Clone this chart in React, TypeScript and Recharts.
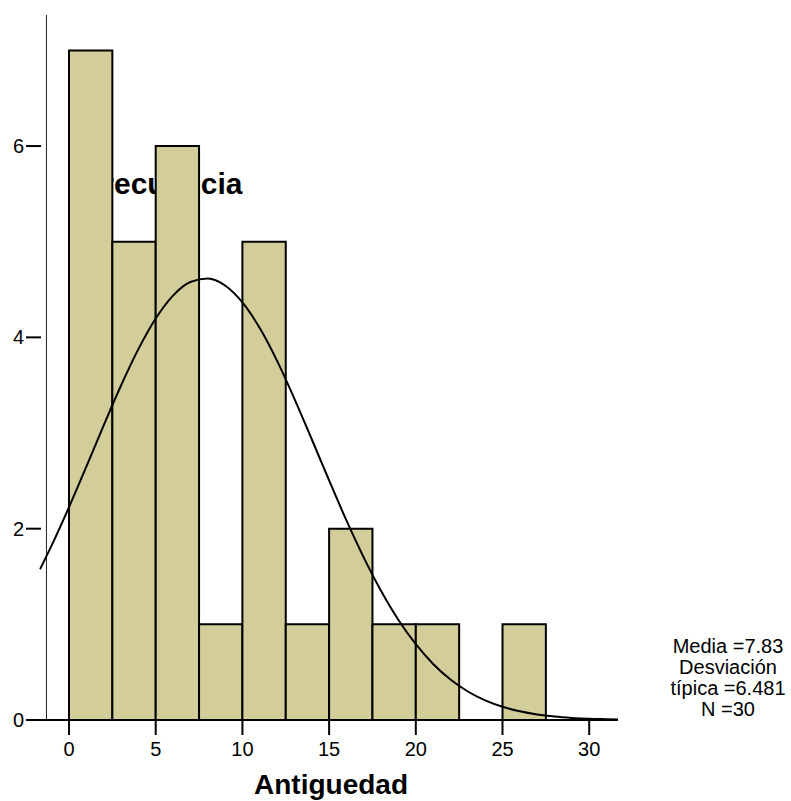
import {
  ComposedChart,
  Line,
  XAxis,
  YAxis,
  ReferenceArea,
  ReferenceLine,
  Label,
} from "recharts";

// histogram bins (width 2.5) and their counts
const binStarts = [0, 2.5, 5, 7.5, 10, 12.5, 15, 17.5, 20, 22.5, 25];
const counts = [7, 5, 6, 1, 5, 1, 2, 1, 1, 0, 1];
const binWidth = 2.5;

// fitted normal curve
const curveX = [
  -1.67, -1, 0, 1, 2, 3, 4, 5, 6, 7, 8, 9, 10, 11, 12, 13, 14, 15, 16, 17, 18,
  19, 20, 21, 22, 23, 24, 25, 26, 27, 28, 29, 30, 31, 31.66,
];
const curveY = [
  1.576, 1.825, 2.225, 2.649, 3.08, 3.497, 3.877, 4.197, 4.437, 4.579, 4.615,
  4.542, 4.365, 4.097, 3.754, 3.358, 2.935, 2.504, 2.086, 1.697, 1.348, 1.045,
  0.792, 0.586, 0.423, 0.298, 0.205, 0.138, 0.091, 0.058, 0.036, 0.022, 0.013,
  0.008, 0.005,
];

const xTicks = [0, 5, 10, 15, 20, 25, 30];
const yTicks = [0, 2, 4, 6];
const stats = ["Media =7.83", "Desviación", "típica =6.481", "N =30"];

const font = "'Liberation Sans', Arial, sans-serif";
const barFill = "#D3CE99";

const curve = curveX.map((x, i) => ({ x, y: curveY[i] }));

function YTick(props: any) {
  const { x, y, payload } = props;
  return (
    <g>
      <text
        x={x - 2}
        y={y}
        textAnchor="end"
        dominantBaseline="central"
        fontSize={20}
        fontFamily={font}
        fill="#000"
      >
        {payload.value}
      </text>
      <line x1={x} x2={x + 15} y1={y} y2={y} stroke="#000" strokeWidth={2} />
    </g>
  );
}

export default function App() {
  return (
    <div
      style={{
        position: "absolute",
        left: 0,
        top: 0,
        width: 791,
        height: 801,
        fontFamily: font,
        background: "#fff",
      }}
    >
      {/* text that sits behind the bars */}
      <svg
        width={791}
        height={801}
        style={{ position: "absolute", left: 0, top: 0 }}
      >
        <text x={84} y={194} fontSize={30} fontWeight="bold" fontFamily={font} fill="#000">
          Frecuencia
        </text>
        <text x={728} y={653} textAnchor="middle" fontSize={20} fontFamily={font} fill="#000">
          {stats.map((s, i) => (
            <tspan key={s} x={728} dy={i === 0 ? 0 : 21}>
              {s}
            </tspan>
          ))}
        </text>
      </svg>
      <div style={{ position: "absolute", left: 0, top: 0 }}>
        <ComposedChart
          width={791}
          height={801}
          margin={{ top: 15, right: 173, bottom: 0, left: 0 }}
        >
          <XAxis
            dataKey="x"
            type="number"
            domain={[-2.48, 31.66]}
            ticks={xTicks}
            allowDataOverflow
            height={81}
            axisLine={{ stroke: "#000", strokeWidth: 2 }}
            tickLine={{ stroke: "#000", strokeWidth: 2 }}
            tickSize={15}
            tickMargin={7}
            tick={{ fill: "#000", fontSize: 20, fontFamily: font }}
          >
            <Label
              content={({ viewBox }: any) => (
                <text
                  x={viewBox.x + viewBox.width / 2 + 9}
                  y={viewBox.y + 74}
                  textAnchor="middle"
                  fontSize={28}
                  fontWeight="bold"
                  fontFamily={font}
                  fill="#000"
                >
                  Antiguedad
                </text>
              )}
            />
          </XAxis>
          <YAxis
            type="number"
            domain={[0, 7.37]}
            ticks={yTicks}
            allowDataOverflow
            width={26}
            axisLine={false}
            tickLine={false}
            tickSize={0}
            tickMargin={0}
            tick={<YTick />}
          />
          {binStarts.map((b, i) =>
            counts[i] > 0 ? (
              <ReferenceArea
                key={b}
                x1={b}
                x2={b + binWidth}
                y1={0}
                y2={counts[i]}
                fill={barFill}
                fillOpacity={1}
                stroke="#000"
                strokeWidth={2}
              />
            ) : null
          )}
          <ReferenceLine x={-1.3} stroke="#222" strokeWidth={1} />
          <Line
            data={curve}
            dataKey="y"
            type="monotone"
            stroke="#000"
            strokeWidth={2}
            dot={false}
            activeDot={false}
            isAnimationActive={false}
          />
        </ComposedChart>
      </div>
    </div>
  );
}
